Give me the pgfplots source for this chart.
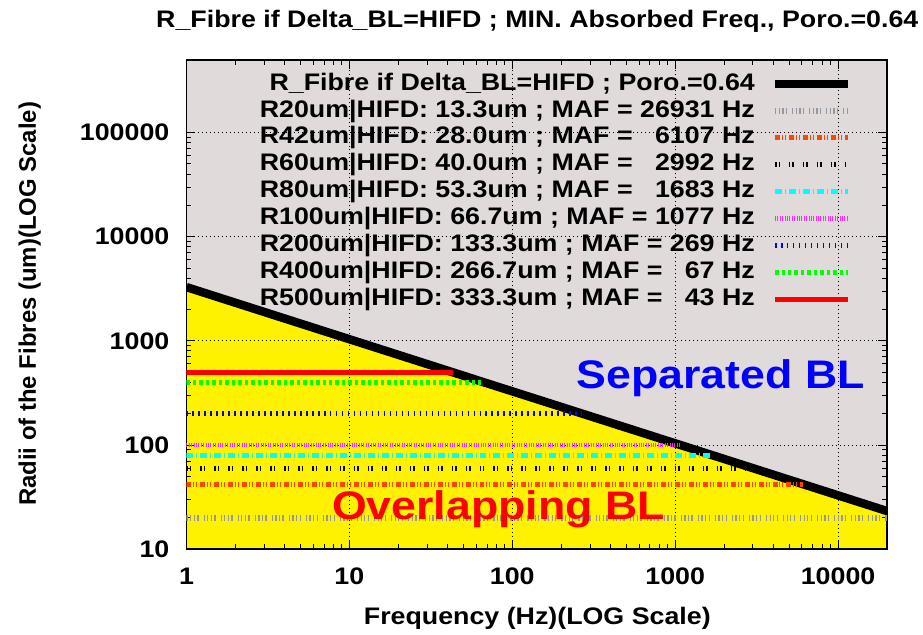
\documentclass[border=0pt]{standalone}
\usepackage{fontspec}
\setmainfont{Liberation Sans}[FakeStretch=1.12]
\newfontfamily\ylabfont{Liberation Sans}
\usepackage{pgfplots}
\pgfplotsset{compat=1.18}
\definecolor{bggray}{RGB}{224,218,218}
\definecolor{lgray}{RGB}{150,150,160}
\definecolor{oran}{RGB}{255,69,0}
\definecolor{mag}{RGB}{255,40,255}
\definecolor{cyn}{RGB}{0,255,255}
\definecolor{grn}{RGB}{0,255,0}
\newlength\lw
\newcommand\LE[2]{\makebox[\lw][l]{#1\hfill#2}}
\begin{document}
\settowidth\lw{\fontsize{24}{24}\selectfont\bfseries R20um|HIFD: 13.3um ; MAF = 26931 Hz}
\begin{tikzpicture}[x=1pt,y=1pt]
\path (0,0) rectangle (923,637);
\begin{axis}[
  set layers,
  at={(184pt,86pt)}, anchor=south west,
  width=703pt, height=491pt, scale only axis,
  xmode=log, ymode=log,
  xmin=1, xmax=20000, ymin=10, ymax=500000,
  xtick={1,10,100,1000,10000}, xticklabels={1,10,100,1000,10000},
  ytick={10,100,1000,10000,100000}, yticklabels={10,100,1000,10000,100000},
  ticklabel style={font=\fontsize{24}{24}\selectfont\bfseries},
  xticklabel style={anchor=north, inner sep=0pt, yshift=-19pt},
  yticklabel style={anchor=east, inner sep=0pt, xshift=-17pt},
  tick align=inside, major tick length=9pt, minor tick length=5pt,
  tick style={black, line width=1pt},
  axis line style={line width=1.6pt},
  xmajorgrids, ymajorgrids,
  major grid style={black, line width=0.8pt, dash pattern=on 1pt off 3pt},
  legend plot pos=right,
  legend cell align=right,
  legend image code/.code={\draw[#1] (0pt,0pt) -- (73pt,0pt);},
  legend style={
    at={(0.9502,0.974)}, anchor=north east,
    draw=none, fill=none, inner sep=0pt,
    font=\fontsize{24}{24}\selectfont\bfseries,
    row sep=4.5pt, column sep=16pt,
    nodes={inner sep=0pt, text height=17.5pt, text depth=5pt}
  },
]
% background regions
\addplot[forget plot, on layer=axis background, fill=bggray, draw=none]
  coordinates {(1,10) (20000,10) (20000,500000) (1,500000)} -- cycle;
\addplot[forget plot, on layer=axis background, fill=yellow, draw=none]
  coordinates {(1,10) (1,3282) (20000,23.2) (20000,10)} -- cycle;
% boundary line R_Fibre(f)
\addplot[black, line width=8.5pt] coordinates {
  (1,3282) (43,500) (67,400) (269,200) (1077,100) (1683,80) (2992,60) (6107,42) (20000,23.2)};
\addlegendentry{R\_Fibre if Delta\_BL=HIFD ; Poro.=0.64}
\addplot[lgray, line width=5.5pt, dash pattern=on 1.3pt off 2.3pt on 1.3pt off 2.3pt on 1.3pt off 2.3pt on 1.3pt off 5pt]
  coordinates {(1,20) (20000,20)};
\addlegendentry{\LE{R20um|HIFD: 13.3um ; MAF =}{26931 Hz}}
\addplot[oran, line width=5pt, dash pattern=on 5pt off 2pt on 1pt off 2pt on 1pt off 3pt]
  coordinates {(1,42) (6107,42)};
\addlegendentry{\LE{R42um|HIFD: 28.0um ; MAF =}{6107 Hz}}
\addplot[black, line width=5pt, dash pattern=on 1.5pt off 2pt on 1.5pt off 9pt]
  coordinates {(1,60) (2992,60)};
\addlegendentry{\LE{R60um|HIFD: 40.0um ; MAF =}{2992 Hz}}
\addplot[cyn, line width=5pt, dash pattern=on 7pt off 3pt on 1pt off 3pt]
  coordinates {(1,80) (1683,80)};
\addlegendentry{\LE{R80um|HIFD: 53.3um ; MAF =}{1683 Hz}}
\addplot[mag, line width=5pt, dash pattern=on 1pt off 1.4pt]
  coordinates {(1,100) (1077,100)};
\addlegendentry{\LE{R100um|HIFD: 66.7um ; MAF =}{1077 Hz}}
\addplot[blue, line width=5pt, dash pattern=on 1.5pt off 4.5pt]
  coordinates {(1,200) (269,200)};
\addlegendentry{\LE{R200um|HIFD: 133.3um ; MAF =}{269 Hz}}
\addplot[grn, line width=5pt, dash pattern=on 3.5pt off 3pt]
  coordinates {(1,400) (67,400)};
\addlegendentry{\LE{R400um|HIFD: 266.7um ; MAF =}{67 Hz}}
\addplot[red, line width=5pt]
  coordinates {(1,500) (43,500)};
\addlegendentry{\LE{R500um|HIFD: 333.3um ; MAF =}{43 Hz}}
\end{axis}
\node[anchor=base, font=\fontsize{24}{24}\selectfont\bfseries] at (536,609.3)
  {R\_Fibre if Delta\_BL=HIFD ; MIN. Absorbed Freq., Poro.=0.64};
\node[anchor=base, font=\fontsize{24}{24}\selectfont\bfseries] at (536,10)
  {Frequency (Hz)(LOG Scale)};
\node[rotate=90, anchor=base, font=\ylabfont\fontsize{24}{24}\selectfont\bfseries] at (33,332)
  {Radii of the Fibres (um)(LOG Scale)};
\node[anchor=base, text=blue, font=\fontsize{40}{40}\selectfont\bfseries] at (720,247)
  {Separated BL};
\node[anchor=base, text=red, font=\fontsize{40}{40}\selectfont\bfseries] at (497,115.3)
  {Overlapping BL};
\end{tikzpicture}
\end{document}
